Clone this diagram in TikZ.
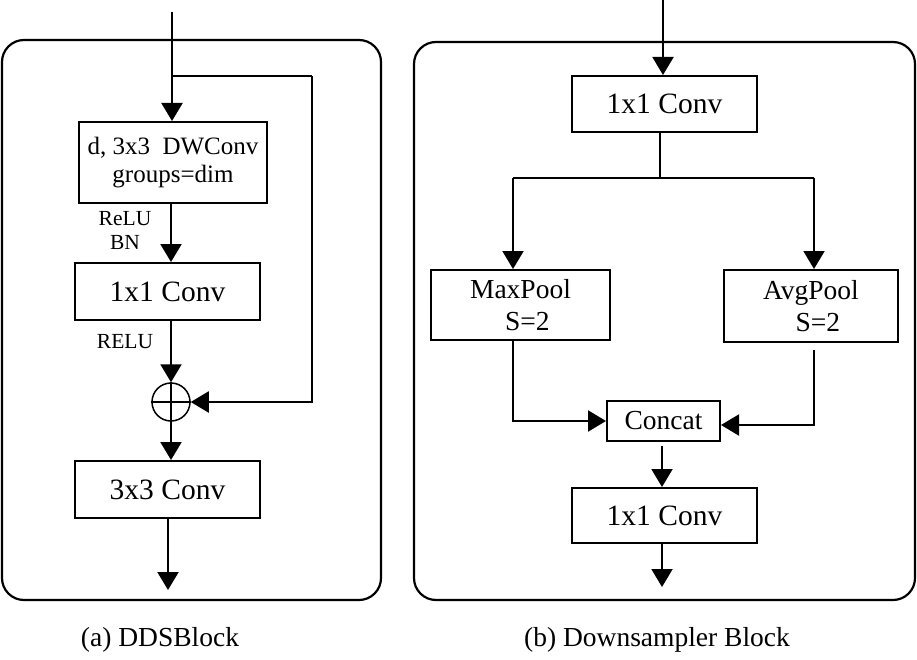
\documentclass[tikz,border=0pt]{standalone}
\usepackage{fontspec}
\setmainfont{Liberation Serif}
\usetikzlibrary{arrows.meta}
\begin{document}
\begin{tikzpicture}[x=1pt,y=-1pt,
  box/.style={draw,line width=2pt,inner sep=0pt,align=center},
  bigtxt/.style={font=\fontsize{29.5}{32}\selectfont},
  midtxt/.style={font=\fontsize{27.5}{32}\selectfont},
  dwtxt/.style={font=\fontsize{25}{28}\selectfont},
  smalltxt/.style={font=\fontsize{21.5}{24}\selectfont,inner sep=0pt},
  conn/.style={line width=2pt},
  arr/.style={line width=2pt,-{Triangle[length=18pt,width=21pt]}},
  panel/.style={draw,line width=2.2pt,rounded corners=22pt}]
\useasboundingbox (0,0) rectangle (917,660);
% panels
\draw[panel] (2,40) rectangle (381,600);
\draw[panel] (414,42) rectangle (915,600);
% ---------- left: DDSBlock ----------
\node[box,dwtxt,minimum width=188pt,minimum height=81pt] (dw) at (173,162.5) {d, 3x3\ \ DWConv\\groups=dim};
\node[box,bigtxt,minimum width=185pt,minimum height=57pt] (c1) at (167.5,291.5) {1x1 Conv};
\node[draw,circle,line width=1.5pt,minimum size=38pt,inner sep=0pt] (plus) at (171,402) {};
\draw[line width=1.5pt] (plus.north) -- (plus.south) (plus.west) -- (plus.east);
\node[box,bigtxt,minimum width=185pt,minimum height=57pt] (c3) at (167.5,489.5) {3x3 Conv};
\node[smalltxt] (relu1) at (125,219) {ReLU};
\node[smalltxt] (bn) at (125,242) {BN};
\node[smalltxt] (relu2) at (125,342) {RELU};
\coordinate (inL) at (172,12);
\coordinate (sp) at (172,76);
\coordinate (sr) at (312,76);
\coordinate (outL) at (168,590);
\draw[arr] (inL) -- (inL |- dw.north);
\draw[conn] (sp) -- (sr);
\draw[arr] (sr) |- (plus.east);
\draw[arr] (plus.north |- dw.south) -- (plus.north |- c1.north);
\draw[arr] (plus.north |- c1.south) -- (plus.north);
\draw[arr] (plus.south) -- (plus.south |- c3.north);
\draw[arr] (outL |- c3.south) -- (outL);
\node[midtxt] (capa) at (160,640) {(a) DDSBlock};
% ---------- right: Downsampler ----------
\node[box,bigtxt,minimum width=185pt,minimum height=56pt] (t1) at (664.5,104) {1x1 Conv};
\node[box,midtxt,minimum width=179pt,minimum height=70pt] (mp) at (520.5,305) {MaxPool\\\ \ S=2};
\node[box,midtxt,minimum width=174pt,minimum height=72pt] (ap) at (811,306) {AvgPool\\\ \ S=2};
\node[box,midtxt,minimum width=113pt,minimum height=40pt] (cc) at (663.5,421) {Concat};
\node[box,bigtxt,minimum width=185pt,minimum height=55pt] (b1) at (664.5,515.5) {1x1 Conv};
\coordinate (inR) at (663,0);
\coordinate (sp2) at (660,178);
\coordinate (bl) at (513,178);
\coordinate (br) at (814,178);
\coordinate (ra) at (814,350);
\coordinate (ca) at (662,446);
\coordinate (outR) at (662,587);
\draw[arr] (inR) -- (inR |- t1.north);
\draw[conn] (sp2 |- t1.south) -- (sp2);
\draw[conn] (bl) -- (br);
\draw[arr] (bl) -- (bl |- mp.north);
\draw[arr] (br) -- (br |- ap.north);
\draw[arr] (bl |- mp.south) |- (cc.west);
\draw[arr] (ra) |- ([yshift=-4pt]cc.east);
\draw[arr] (ca) -- (ca |- b1.north);
\draw[arr] (outR |- b1.south) -- (outR);
\node[midtxt] (capb) at (657,640) {(b) Downsampler Block};
\end{tikzpicture}
\end{document}
